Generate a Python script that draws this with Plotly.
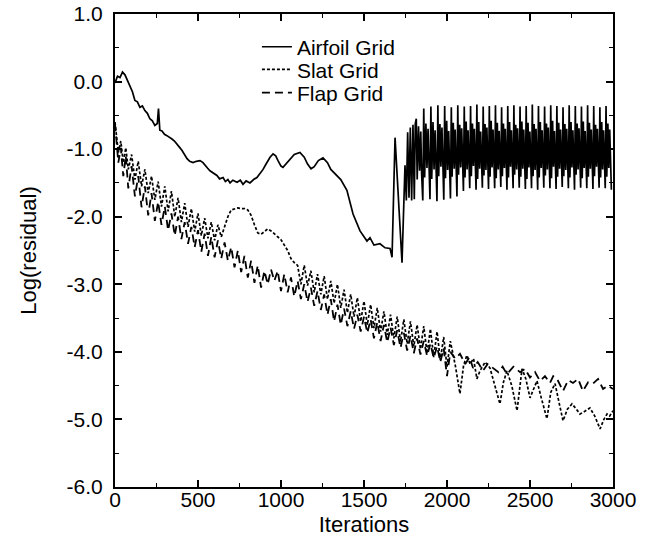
import plotly.graph_objects as go

# ---------------- data ----------------
airfoil_iter = [0, 15, 30, 45, 60, 75, 90, 105, 120, 135, 150, 165, 180, 195, 210, 225, 240, 255, 262, 270,
                283, 298, 313, 328, 343, 358, 373, 388, 404, 419, 434, 450, 470, 490, 512, 530, 542, 557, 572, 593,
                614, 630, 651, 665, 680, 693, 710, 735, 755, 771, 790, 813, 835, 855, 875, 892, 910, 934, 952, 968,
                982, 1000, 1012, 1030, 1054, 1080, 1114, 1140, 1160, 1181, 1200, 1225, 1253, 1280, 1300, 1337, 1360,
                1397, 1434, 1476, 1518, 1536, 1560, 1596, 1627, 1657, 1669, 1687, 1729, 1747,
                1755, 1763, 1771, 1779, 1787, 1795, 1803, 1809]
airfoil_val = [-0.02, 0.08, 0.06, 0.14, 0.10, 0.02, -0.05, -0.15, -0.28, -0.30, -0.38, -0.36, -0.43, -0.47, -0.55,
               -0.58, -0.65, -0.62, -0.40, -0.72, -0.73, -0.78, -0.80, -0.82, -0.85, -0.88, -0.92, -0.97, -1.02,
               -1.08, -1.14, -1.18, -1.20, -1.18, -1.17, -1.20, -1.24, -1.28, -1.32, -1.36, -1.39, -1.44, -1.42,
               -1.48, -1.45, -1.50, -1.46, -1.49, -1.46, -1.52, -1.47, -1.50, -1.45, -1.42, -1.36, -1.30, -1.22,
               -1.12, -1.07, -1.10, -1.17, -1.25, -1.27, -1.22, -1.15, -1.08, -1.05, -1.12, -1.22, -1.29, -1.26,
               -1.17, -1.13, -1.20, -1.30, -1.39, -1.45, -1.61, -1.96, -2.21, -2.36, -2.31, -2.42, -2.40, -2.46,
               -2.47, -2.60, -0.83, -2.68, -1.24,
               -1.76, -0.75, -1.72, -0.68, -1.76, -0.64, -1.74, -0.62]

# limit-cycle oscillation of the airfoil grid residual (one entry per cycle)
osc_start = [1815, 1860, 1903, 1945, 1986, 2026, 2065, 2104, 2142, 2180, 2218, 2255, 2292, 2329, 2366, 2403,
             2440, 2477, 2514, 2551, 2588, 2625, 2662, 2699, 2736, 2773, 2810, 2847, 2884, 2921, 2958, 2995]
osc_top = [-0.55, -0.40, -0.37, -0.35, -0.36, -0.38, -0.35, -0.37, -0.36, -0.34, -0.37, -0.36, -0.35, -0.38,
           -0.36, -0.35, -0.37, -0.36, -0.34, -0.36, -0.37, -0.35, -0.36, -0.38, -0.35, -0.36, -0.37, -0.35,
           -0.36, -0.38, -0.36]
osc_a = [-1.45, -1.42, -1.44, -1.40, -1.43, -1.41, -1.38, -1.42, -1.40, -1.44, -1.39, -1.41, -1.43, -1.40,
         -1.42, -1.38, -1.41, -1.44, -1.40, -1.42, -1.39, -1.43, -1.41, -1.40, -1.42, -1.38, -1.43, -1.41,
         -1.40, -1.42, -1.41]
osc_b = [-0.66, -0.62, -0.60, -0.63, -0.58, -0.61, -0.64, -0.59, -0.62, -0.60, -0.63, -0.58, -0.61, -0.62,
         -0.60, -0.64, -0.59, -0.61, -0.63, -0.60, -0.62, -0.58, -0.61, -0.63, -0.60, -0.62, -0.59, -0.61,
         -0.64, -0.60, -0.62]
osc_c = [-1.32, -1.28, -1.30, -1.26, -1.31, -1.29, -1.27, -1.30, -1.25, -1.29, -1.31, -1.27, -1.30, -1.28,
         -1.26, -1.30, -1.29, -1.27, -1.31, -1.28, -1.30, -1.26, -1.29, -1.31, -1.27, -1.30, -1.28, -1.29,
         -1.26, -1.30, -1.28]
osc_d = [-0.74, -0.70, -0.72, -0.68, -0.73, -0.71, -0.69, -0.72, -0.70, -0.74, -0.68, -0.71, -0.73, -0.70,
         -0.72, -0.69, -0.71, -0.74, -0.70, -0.72, -0.68, -0.73, -0.71, -0.70, -0.72, -0.69, -0.73, -0.71,
         -0.70, -0.72, -0.71]
osc_e = [-1.38, -1.35, -1.37, -1.34, -1.36, -1.38, -1.33, -1.36, -1.35, -1.37, -1.34, -1.36, -1.38, -1.35,
         -1.33, -1.37, -1.36, -1.34, -1.38, -1.35, -1.36, -1.33, -1.37, -1.35, -1.36, -1.38, -1.34, -1.36,
         -1.35, -1.37, -1.36]
osc_low = [-1.76, -1.74, -1.77, -1.75, -1.73, -1.70, -1.62, -1.58, -1.60, -1.57, -1.59, -1.58, -1.56, -1.60,
           -1.58, -1.57, -1.59, -1.58, -1.60, -1.57, -1.58, -1.59, -1.56, -1.58, -1.60, -1.57, -1.58, -1.59,
           -1.57, -1.58, -1.60]
osc_phase = [0.0, 0.12, 0.30, 0.45, 0.60, 0.72, 0.87]

slat_iter = [0, 10, 20, 35, 50, 65, 80, 100, 120, 140, 160, 180, 200, 220, 240, 260, 280, 300, 320, 340, 360,
             380, 400, 420, 440, 460, 480, 500, 520, 540, 560, 580, 600, 620, 640, 660, 680, 700, 720, 740, 760,
             780, 800, 820, 840, 860, 880, 900, 920, 940, 960, 980, 1000, 1020, 1040, 1060, 1080, 1100, 1120,
             1140, 1160, 1180, 1200, 1220, 1240, 1260, 1280, 1300, 1320, 1340, 1360, 1380, 1400, 1420, 1440,
             1460, 1480, 1500, 1520, 1540, 1560, 1580, 1600, 1620, 1640, 1660, 1680, 1700, 1720, 1740, 1760,
             1780, 1800, 1820, 1840, 1860, 1880, 1900, 1920, 1940, 1960, 1980, 2000, 2020, 2050, 2078, 2100,
             2120, 2139, 2160, 2180, 2199, 2230, 2259, 2290, 2319, 2340, 2361, 2390, 2422, 2452, 2475, 2500,
             2520, 2542, 2570, 2602, 2625, 2651, 2675, 2699, 2725, 2753, 2780, 2801, 2830, 2861, 2890, 2922,
             2945, 2964, 2980, 3000]
slat_val = [-0.60, -0.80, -1.05, -0.88, -1.20, -0.98, -1.30, -1.08, -1.45, -1.18, -1.55, -1.30, -1.65, -1.40,
            -1.75, -1.48, -1.85, -1.55, -1.92, -1.62, -2.00, -1.72, -2.08, -1.80, -2.15, -1.88, -2.22, -1.95,
            -2.28, -2.02, -2.32, -2.08, -2.35, -2.12, -2.30, -2.15, -2.00, -1.90, -1.88, -1.87, -1.88, -1.88,
            -1.90, -1.98, -2.12, -2.24, -2.26, -2.22, -2.18, -2.21, -2.25, -2.30, -2.34, -2.42, -2.50, -2.62,
            -2.68, -2.72, -3.00, -2.72, -3.02, -2.80, -3.12, -2.85, -3.15, -2.88, -3.22, -2.95, -3.28, -3.00,
            -3.35, -3.08, -3.42, -3.15, -3.48, -3.20, -3.55, -3.25, -3.60, -3.30, -3.65, -3.35, -3.70, -3.40,
            -3.75, -3.45, -3.80, -3.48, -3.85, -3.52, -3.88, -3.55, -3.92, -3.60, -3.96, -3.62, -4.02, -3.66,
            -4.08, -3.70, -4.12, -3.78, -4.22, -3.84, -4.20, -4.62, -4.20, -4.05, -4.18, -4.10, -4.40, -4.28,
            -4.15, -4.24, -4.50, -4.77, -4.45, -4.28, -4.50, -4.87, -4.25, -4.40, -4.68, -4.55, -4.43, -4.70,
            -4.99, -4.60, -4.47, -4.75, -5.02, -4.85, -4.77, -4.85, -4.92, -4.88, -4.83, -4.95, -5.14, -5.00,
            -4.92, -4.95, -4.87]

flap_iter = [0, 10, 20, 35, 50, 65, 80, 100, 120, 140, 160, 180, 200, 220, 240, 260, 280, 300, 320, 340, 360,
             380, 400, 420, 440, 460, 480, 500, 520, 540, 560, 580, 600, 620, 640, 660, 680, 700, 720, 740, 760,
             780, 800, 820, 840, 860, 880, 900, 920, 940, 960, 980, 1000, 1020, 1040, 1060, 1080, 1100, 1120,
             1140, 1160, 1180, 1200, 1220, 1240, 1260, 1280, 1300, 1320, 1340, 1360, 1380, 1400, 1420, 1440,
             1460, 1480, 1500, 1520, 1540, 1560, 1580, 1600, 1620, 1640, 1660, 1680, 1700, 1720, 1740, 1760,
             1780, 1800, 1820, 1840, 1860, 1880, 1900, 1920, 1940, 1960, 1980, 2000, 2020, 2050, 2078, 2110,
             2135, 2157, 2185, 2217, 2245, 2277, 2310, 2335, 2361, 2400, 2440, 2470, 2500, 2530, 2560, 2590,
             2620, 2640, 2663, 2699, 2730, 2759, 2790, 2819, 2850, 2880, 2910, 2940, 2970, 3000]
flap_val = [-0.62, -0.90, -1.20, -0.98, -1.40, -1.10, -1.58, -1.25, -1.70, -1.40, -1.86, -1.55, -1.98, -1.65,
            -2.06, -1.78, -2.12, -1.85, -2.20, -1.95, -2.28, -2.00, -2.33, -2.08, -2.40, -2.15, -2.45, -2.20,
            -2.52, -2.25, -2.58, -2.30, -2.60, -2.35, -2.62, -2.38, -2.65, -2.45, -2.75, -2.50, -2.82, -2.58,
            -2.90, -2.65, -2.98, -2.72, -3.05, -2.80, -3.00, -2.78, -2.95, -2.80, -3.10, -2.85, -3.12, -2.90,
            -3.18, -2.95, -3.22, -3.00, -3.26, -3.05, -3.32, -3.10, -3.38, -3.15, -3.45, -3.22, -3.55, -3.30,
            -3.60, -3.36, -3.62, -3.40, -3.66, -3.45, -3.70, -3.48, -3.72, -3.52, -3.80, -3.56, -3.84, -3.60,
            -3.86, -3.64, -3.90, -3.68, -3.94, -3.72, -3.98, -3.76, -4.02, -3.80, -4.04, -3.84, -4.06, -3.88,
            -4.09, -3.92, -4.15, -3.95, -4.36, -4.00, -4.10, -4.03, -4.18, -4.08, -4.24, -4.15, -4.28, -4.18,
            -4.24, -4.30, -4.22, -4.33, -4.22, -4.30, -4.25, -4.38, -4.30, -4.43, -4.36, -4.46, -4.36, -4.40,
            -4.58, -4.42, -4.46, -4.40, -4.58, -4.45, -4.47, -4.40, -4.55, -4.50, -4.55]

x_ticks = [0, 500, 1000, 1500, 2000, 2500, 3000]
y_ticks = [1.0, 0.0, -1.0, -2.0, -3.0, -4.0, -5.0, -6.0]
y_tick_text = ["1.0", "0.0", "-1.0", "-2.0", "-3.0", "-4.0", "-5.0", "-6.0"]

# ---------------- build the airfoil series ----------------
af_x = list(airfoil_iter)
af_y = list(airfoil_val)
for i in range(len(osc_top)):
    s, e = osc_start[i], osc_start[i + 1]
    vals = [osc_top[i], osc_a[i], osc_b[i], osc_c[i], osc_d[i], osc_e[i], osc_low[i]]
    for f, v in zip(osc_phase, vals):
        af_x.append(s + f * (e - s))
        af_y.append(v)

FONT = "Liberation Sans, Arial, Helvetica, sans-serif"

fig = go.Figure()
fig.add_trace(go.Scatter(x=af_x, y=af_y, mode="lines", name="Airfoil Grid", legend="legend",
                         line=dict(color="black", width=1.7)))
fig.add_trace(go.Scatter(x=slat_iter, y=slat_val, mode="lines", name="Slat Grid", legend="legend2",
                         line=dict(color="black", width=1.7, dash="3px,2px")))
fig.add_trace(go.Scatter(x=flap_iter, y=flap_val, mode="lines", name="Flap Grid", legend="legend3",
                         line=dict(color="black", width=1.8, dash="8px,5px")))

leg_common = dict(x=0.285, xanchor="left", yanchor="middle", bgcolor="rgba(0,0,0,0)", borderwidth=0,
                  font=dict(family=FONT, size=21, color="black"), itemwidth=30)

fig.update_layout(
    width=647, height=543,
    margin=dict(l=115, r=34, t=14, b=56, autoexpand=False),
    paper_bgcolor="white", plot_bgcolor="white",
    font=dict(family=FONT, size=21, color="black"),
    showlegend=True,
    legend=dict(y=0.930, **leg_common),
    legend2=dict(y=0.882, **leg_common),
    legend3=dict(y=0.833, **leg_common),
)
fig.update_xaxes(
    range=[0, 3000], tickvals=x_ticks, ticktext=[str(v) for v in x_ticks],
    ticks="inside", ticklen=7, tickwidth=1.5, tickcolor="black",
    showline=True, linecolor="black", linewidth=2, mirror="ticks",
    showgrid=False, zeroline=False, automargin=False,
    minor=dict(ticks="inside", ticklen=4, dtick=250, tickcolor="black", tickwidth=1),
    tickfont=dict(family=FONT, size=21), ticklabelstandoff=-7, ticklabeloverflow="allow",
    title=dict(text="Iterations", font=dict(family=FONT, size=22), standoff=6),
)
fig.update_yaxes(
    range=[-6, 1], tickvals=y_ticks, ticktext=y_tick_text,
    ticks="inside", ticklen=7, tickwidth=1.5, tickcolor="black",
    showline=True, linecolor="black", linewidth=2, mirror="ticks",
    showgrid=False, zeroline=False, automargin=False,
    minor=dict(ticks="inside", ticklen=4, dtick=0.5, tickcolor="black", tickwidth=1),
    tickfont=dict(family=FONT, size=21), ticklabelstandoff=6, ticklabeloverflow="allow",
    title=dict(text="Log(residual)", font=dict(family=FONT, size=22), standoff=24),
)

# remove the default page margin so the 647x543 figure fills the window exactly
fig.write_html("out.html", config={"displayModeBar": False},
               post_script="document.body.style.margin='0px';")
